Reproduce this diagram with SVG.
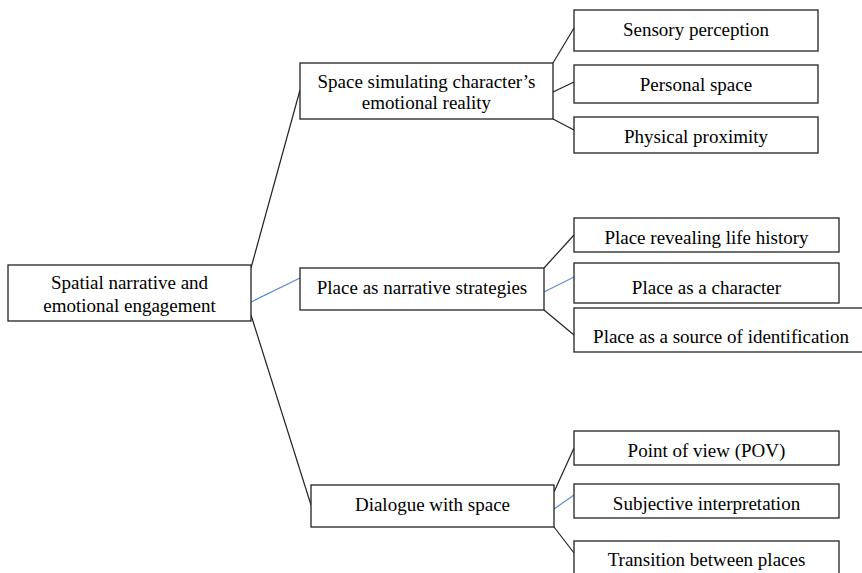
<svg xmlns="http://www.w3.org/2000/svg" width="862" height="573" viewBox="0 0 862 573">
<style>
rect{fill:#fff;stroke:#222;stroke-width:1.3}
text{font-family:"Liberation Serif","Times New Roman",serif;font-size:19px;fill:#000;text-anchor:middle}
.k{stroke:#222;stroke-width:1.2;fill:none}
.b{stroke:#5b8bd6;stroke-width:1.2;fill:none}
</style>
<rect width="862" height="573" style="fill:#fff;stroke:none"/>
<g id="connectors">
<line class="k" x1="251" y1="268" x2="300" y2="90"/>
<line class="b" x1="251" y1="302" x2="300" y2="278"/>
<line class="k" x1="251" y1="315" x2="311" y2="505"/>
<line class="k" x1="553" y1="63" x2="574" y2="28"/>
<line class="k" x1="553" y1="92" x2="574" y2="82"/>
<line class="k" x1="553" y1="119" x2="574" y2="130"/>
<line class="k" x1="544" y1="268" x2="574" y2="235"/>
<line class="b" x1="544" y1="292" x2="574" y2="277"/>
<line class="k" x1="544" y1="310" x2="574" y2="335"/>
<line class="k" x1="554" y1="492" x2="574" y2="448"/>
<line class="b" x1="554" y1="509" x2="574" y2="495"/>
<line class="k" x1="554" y1="527" x2="574" y2="553"/>
</g>
<g id="root">
<rect x="8" y="265" width="243" height="56"/>
<text x="129.5" y="289">Spatial narrative and</text>
<text x="129.5" y="312">emotional engagement</text>
</g>
<g id="n1">
<rect x="300" y="63" width="253" height="56"/>
<text x="426.5" y="88">Space simulating character’s</text>
<text x="426.5" y="109">emotional reality</text>
</g>
<g id="n1a">
<rect x="574" y="10" width="244" height="41"/>
<text x="696" y="36">Sensory perception</text>
</g>
<g id="n1b">
<rect x="574" y="65" width="244" height="38"/>
<text x="696" y="91">Personal space</text>
</g>
<g id="n1c">
<rect x="574" y="117" width="244" height="36"/>
<text x="696" y="143">Physical proximity</text>
</g>
<g id="n2">
<rect x="300" y="268" width="244" height="42"/>
<text x="422" y="294">Place as narrative strategies</text>
</g>
<g id="n2a">
<rect x="574" y="218" width="265" height="34"/>
<text x="706.5" y="244">Place revealing life history</text>
</g>
<g id="n2b">
<rect x="574" y="263" width="265" height="40"/>
<text x="706.5" y="294">Place as a character</text>
</g>
<g id="n2c">
<rect x="574" y="308" width="292" height="44"/>
<text x="721" y="343">Place as a source of identification</text>
</g>
<g id="n3">
<rect x="311" y="485" width="243" height="42"/>
<text x="432.5" y="511">Dialogue with space</text>
</g>
<g id="n3a">
<rect x="574" y="431" width="265" height="34"/>
<text x="706.5" y="457">Point of view (POV)</text>
</g>
<g id="n3b">
<rect x="574" y="484" width="265" height="34"/>
<text x="706.5" y="510">Subjective interpretation</text>
</g>
<g id="n3c">
<rect x="574" y="541" width="265" height="40"/>
<text x="706.5" y="566">Transition between places</text>
</g>
</svg>
